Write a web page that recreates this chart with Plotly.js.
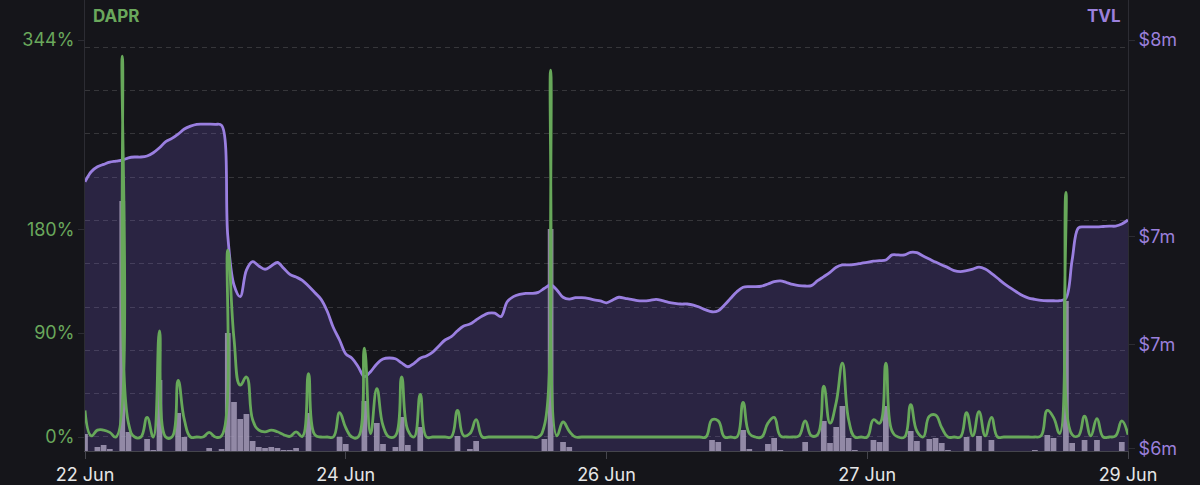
<!DOCTYPE html>
<html><head><meta charset="utf-8">
<script src="https://cdn.plot.ly/plotly-3.0.1.min.js"></script>
<style>html,body{margin:0;padding:0;background:#15151a;}#chart{width:1200px;height:485px;}</style>
</head><body><div id="chart"></div>
<script>
// x-axis tick positions / labels
const tickDates = ['2024-06-22 00:00','2024-06-23 18:00','2024-06-25 12:00','2024-06-27 06:00','2024-06-29 00:00'];
const tickLabels = ['22 Jun','24 Jun','26 Jun','27 Jun','29 Jun'];
// left axis (DAPR, %)
const daprTicks = [0, 90, 180, 344];
const daprTickLabels = ['0%','90%','180%','344%'];
// right axis (TVL, $m)
const tvlTicks = [6, 6.51, 7.04, 8];
const tvlTickLabels = ['$6m','$7m','$7m','$8m'];

// hourly TVL in $ millions (22 Jun 00:00 -> 29 Jun 00:00)
const tvl = [
7.307,7.356,7.380,7.392,7.403,7.408,7.413,7.424,7.428,7.428,
7.433,7.449,7.473,7.503,7.519,7.540,7.565,7.579,7.588,7.589,
7.589,7.588,7.583,7.042,6.802,6.745,6.875,6.916,6.895,6.879,
6.895,6.912,6.884,6.854,6.841,6.825,6.797,6.765,6.733,6.675,
6.594,6.533,6.465,6.444,6.402,6.354,6.378,6.416,6.440,6.445,
6.441,6.421,6.402,6.419,6.444,6.455,6.474,6.504,6.533,6.549,
6.578,6.601,6.611,6.631,6.650,6.664,6.664,6.647,6.720,6.745,
6.756,6.761,6.761,6.766,6.786,6.802,6.778,6.742,6.733,6.740,
6.740,6.737,6.729,6.724,6.715,6.729,6.742,6.737,6.732,6.725,
6.724,6.727,6.732,6.725,6.717,6.712,6.709,6.709,6.704,6.693,
6.680,6.671,6.676,6.704,6.737,6.769,6.791,6.794,6.794,6.797,
6.807,6.818,6.822,6.814,6.805,6.799,6.797,6.799,6.823,6.843,
6.864,6.889,6.900,6.900,6.903,6.908,6.913,6.919,6.921,6.924,
6.949,6.949,6.949,6.962,6.960,6.944,6.929,6.914,6.900,6.887,
6.872,6.867,6.872,6.880,6.889,6.880,6.859,6.835,6.810,6.789,
6.769,6.750,6.738,6.732,6.727,6.725,6.725,6.725,6.737,6.924,
7.081,7.086,7.086,7.086,7.088,7.090,7.090,7.100,7.120];

// hourly DAPR in %
const dapr = [
23,1,6,6,4,0,330,12,0,0,
17,0,92,0,0,49,15,0,0,0,
4,0,1,162,85,45,52,15,6,4.5,
6,4.5,2,0.5,4.5,0.5,55,2,0,0,
0,21,8,0,0,77,3,42,10,0,
1,52,6,0,37,0,0,0,0,0,
23,1,3,15,0,0,0,0,0,0,
0,0,0,0,10,318,1,13,5,0,
0,0,0,0,0,0,0,0,0,0,
0,0,0,0,0,0,0,0,0,0,
0,15,14,0,0,0,30,3,0,0,
12,17,1,0,0,1,14,1,2,44,
12,30,64,15,0,0,0,15,12,64,
5,0,0,28,5,0,18,19,8,0,
0,0,21,1,22,1,17,0,0,0,
0,0,0,0,1,23,17,3,212,2,
1,18,1,16,0,0,1,14,2];

// hourly fees (bars, arbitrary units)
const fees = [
17,0,4,6,2,0,250,19,0,0,
12,1,71,0,0,38,14,0,0,0,
3,0,2,118,49,32,37,10,4,3,
4,3,1,1,3,0,38,0,0,0,
0,14,7,0,0,50,0,28,7,0,
4,34,6,0,24,0,0,0,0,0,
15,0,2,10,0,0,0,0,0,0,
0,0,0,0,12,222,0,9,4,0,
0,0,0,0,0,0,0,0,0,0,
0,0,0,0,0,0,0,0,0,0,
0,11,9,0,0,0,21,2,0,0,
7,13,1,0,0,0,9,0,0,30,
8,24,45,13,1,0,0,11,9,45,
0,0,0,20,10,0,12,13,8,1,
0,0,14,0,15,0,11,0,0,0,
0,0,0,1,0,16,13,0,150,8,
0,11,0,11,0,0,0,9,0];

function stamp(h){
  const d = new Date(Date.UTC(2024,5,22,0) + h*3600000);
  const p = n => String(n).padStart(2,'0');
  return d.getUTCFullYear()+'-'+p(d.getUTCMonth()+1)+'-'+p(d.getUTCDate())+' '+p(d.getUTCHours())+':00';
}
const times = tvl.map((_, i) => stamp(i));

const tvlRange = [5.990, 8.196];
const daprRange = [-12.13, 378.7];
const gridVals = [6.059, 6.271, 6.483, 6.694, 6.906, 7.118, 7.330, 7.542, 7.754, 7.966];

const traces = [
  {x: times, y: tvl, type:'scatter', mode:'lines', yaxis:'y',
   line:{width:0, shape:'spline', smoothing:1}, fill:'tozeroy', fillcolor:'rgba(130,100,230,0.2)', hoverinfo:'skip'},
  {x: times, y: fees, type:'bar', yaxis:'y2', marker:{color:'rgba(170,160,188,0.82)', line:{width:0}}, hoverinfo:'skip'},
  {x: times, y: tvl, type:'scatter', mode:'lines', yaxis:'y3',
   line:{color:'#9a7fe0', width:2.8, shape:'spline', smoothing:1}, hoverinfo:'skip'},
  {x: times, y: dapr, type:'scatter', mode:'lines', yaxis:'y4',
   line:{color:'#67a85a', width:2.8, shape:'spline', smoothing:1.3}, hoverinfo:'skip'}
];

const axisLine = '#2c2c33';
const layout = {
  width:1200, height:485,
  paper_bgcolor:'#15151a', plot_bgcolor:'#15151a',
  margin:{l:85, r:72, t:0, b:34, pad:0},
  showlegend:false, bargap:0.08,
  font:{family:'Inter, "Open Sans", sans-serif'},
  xaxis:{type:'date', range:[times[0], times[times.length-1]], tickmode:'array', tickvals:tickDates, ticktext:tickLabels,
    showgrid:false, zeroline:false, showline:true, linecolor:'#45454d', linewidth:1,
    ticks:'outside', ticklen:7, tickcolor:'#45454d', tickfont:{size:18, color:'#e6e6e6'}},
  yaxis:{range:tvlRange, showticklabels:false, ticks:'', zeroline:false, showline:false,
    showgrid:true, tickmode:'array', tickvals:gridVals, gridcolor:'rgba(255,255,255,0.14)', griddash:'5px,4px', gridwidth:1},
  yaxis2:{overlaying:'y', range:[0,451], visible:false},
  yaxis3:{overlaying:'y', side:'right', range:tvlRange, tickmode:'array', tickvals:tvlTicks, ticktext:tvlTickLabels,
    showgrid:false, zeroline:false, showline:true, linecolor:axisLine, linewidth:1,
    ticks:'outside', ticklen:6, tickcolor:axisLine, tickfont:{size:18, color:'#9b80dc'}},
  yaxis4:{overlaying:'y', side:'left', range:daprRange, tickmode:'array', tickvals:daprTicks, ticktext:daprTickLabels,
    showgrid:false, zeroline:false, showline:true, linecolor:axisLine, linewidth:1,
    ticks:'outside', ticklen:6, tickcolor:axisLine, tickfont:{size:18, color:'#6aa85c'}},
  annotations:[
    {text:'<b>DAPR</b>', xref:'paper', yref:'paper', x:0, y:1, xanchor:'left', yanchor:'middle', xshift:6, yshift:-16,
     showarrow:false, font:{size:17, color:'#6aa85c'}},
    {text:'<b>TVL</b>', xref:'paper', yref:'paper', x:1, y:1, xanchor:'right', yanchor:'middle', xshift:-5, yshift:-16,
     showarrow:false, font:{size:17, color:'#9b80dc'}}
  ]
};

Plotly.newPlot('chart', traces, layout, {staticPlot:true, displayModeBar:false});
</script>
</body></html>
